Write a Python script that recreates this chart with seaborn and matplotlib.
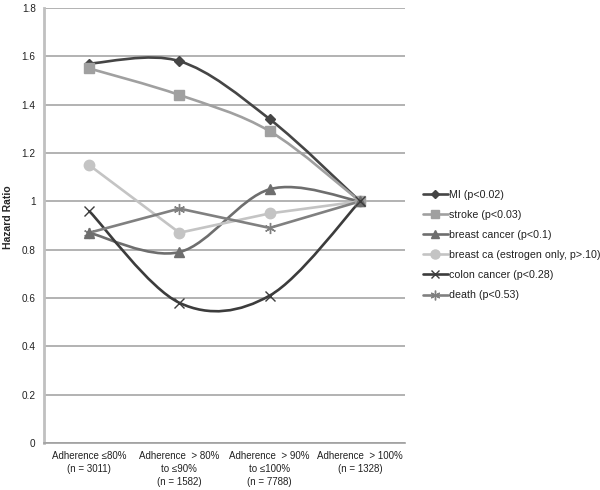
import numpy as np
import pandas as pd
import matplotlib
matplotlib.use("Agg")
import matplotlib.pyplot as plt
import seaborn as sns
from matplotlib.path import Path
from matplotlib.patches import PathPatch
from matplotlib.lines import Line2D

# Data
categories = [
    "Adherence ≤80%\n(n = 3011)",
    "Adherence  > 80%\nto ≤90%\n(n = 1582)",
    "Adherence  > 90%\nto ≤100%\n(n = 7788)",
    "Adherence  > 100%\n(n = 1328)",
]
series_names = [
    "MI (p<0.02)",
    "stroke (p<0.03)",
    "breast cancer (p<0.1)",
    "breast ca (estrogen only, p>.10)",
    "colon cancer (p<0.28)",
    "death (p<0.53)",
]
mi = [1.57, 1.58, 1.34, 1.0]
stroke = [1.55, 1.44, 1.29, 1.0]
breast_cancer = [0.87, 0.79, 1.05, 1.0]
breast_estrogen = [1.15, 0.87, 0.95, 1.0]
colon_cancer = [0.96, 0.58, 0.61, 1.0]
death = [0.87, 0.97, 0.89, 1.0]
yticks = [0, 0.2, 0.4, 0.6, 0.8, 1, 1.2, 1.4, 1.6, 1.8]
ytick_labels = ["0", "0.2", "0.4", "0.6", "0.8", "1", "1.2", "1.4", "1.6", "1.8"]

values = [mi, stroke, breast_cancer, breast_estrogen, colon_cancer, death]

# Styles
colors = ["#454545", "#a0a0a0", "#6e6e6e", "#c4c4c4", "#3c3c3c", "#808080"]
markers = ["D", "s", "^", "o", "x", (6, 2, 0)]
msizes = [5, 6.5, 6.5, 7.5, 7, 8]
smooth = [True, True, True, False, True, False]

sns.set_theme(style="white")
plt.rcParams["font.family"] = ["Liberation Sans", "DejaVu Sans"]

df = pd.DataFrame({
    "series": np.repeat(series_names, len(categories)),
    "x": np.tile(np.arange(len(categories)), len(series_names)),
    "hr": np.concatenate(values),
})


def smooth_path(xs, ys):
    # Excel-style smoothed line: Catmull-Rom as cubic Bezier segments
    pts = np.column_stack([xs, ys]).astype(float)
    ext = np.vstack([pts[0], pts, pts[-1]])
    verts = [pts[0]]
    codes = [Path.MOVETO]
    for i in range(len(pts) - 1):
        p0, p1, p2, p3 = ext[i], ext[i + 1], ext[i + 2], ext[i + 3]
        c1 = p1 + (p2 - p0) / 6.0
        c2 = p2 - (p3 - p1) / 6.0
        verts += [c1, c2, p2]
        codes += [Path.CURVE4] * 3
    return Path(verts, codes)


fig = plt.figure(figsize=(6.0, 4.9), dpi=100)
ax = fig.add_axes([0.0733, 0.0959, 0.602, 0.8878])

handles = []
for name, c, m, ms, sm in zip(series_names, colors, markers, msizes, smooth):
    sub = df[df["series"] == name]
    if sm:
        patch = PathPatch(smooth_path(sub["x"].values, sub["hr"].values),
                          facecolor="none", edgecolor=c, lw=1.9, zorder=3)
        ax.add_patch(patch)
        sns.lineplot(data=sub, x="x", y="hr", ax=ax, color=c, lw=0,
                     marker=m, markersize=ms, markeredgecolor=c,
                     markeredgewidth=1.0, zorder=4, legend=False)
    else:
        sns.lineplot(data=sub, x="x", y="hr", ax=ax, color=c, lw=1.9,
                     marker=m, markersize=ms, markeredgecolor=c,
                     markeredgewidth=1.0, zorder=3, legend=False)
    handles.append(Line2D([0], [0], color=c, lw=1.9, marker=m, markersize=ms - 1,
                          markeredgecolor=c, markeredgewidth=1.0))

ax.set_xlim(-0.5, len(categories) - 0.5)
ax.set_ylim(0, 1.8)
ax.set_yticks(yticks)
ax.set_yticklabels(ytick_labels, fontsize=7.2, color="#222222")
ax.set_xticks(range(len(categories)))
ax.set_xticklabels(categories, fontsize=7.0, color="#222222", linespacing=1.35)
ax.set_xticks(np.arange(-0.5, len(categories)), minor=True)
ax.tick_params(axis="x", which="major", length=0, pad=6)
ax.tick_params(axis="x", which="minor", length=4, color="#a0a0a0", width=1, direction="out")
ax.tick_params(axis="y", length=4, color="#a0a0a0", width=1, direction="out", pad=2)
ax.set_xlabel("")
ax.set_ylabel("Hazard Ratio", fontsize=7.5, fontweight="bold")
ax.yaxis.set_label_coords(-0.085, 0.52)

ax.yaxis.grid(True, color="#a6a6a6", lw=1.2)
ax.xaxis.grid(False)
ax.set_axisbelow(True)
for side in ["top", "right"]:
    ax.spines[side].set_visible(False)
ax.spines["left"].set_color("#c0c0c0")
ax.spines["left"].set_linewidth(2)
ax.spines["bottom"].set_color("#a0a0a0")
ax.spines["bottom"].set_linewidth(1.2)

fig.legend(handles, series_names, loc="center left",
           bbox_to_anchor=(0.698, 0.50), frameon=False, fontsize=7.7,
           handlelength=2.3, handletextpad=0.15, labelspacing=0.95,
           borderaxespad=0, labelcolor="#222222")

fig.savefig("out.png", dpi=100)
